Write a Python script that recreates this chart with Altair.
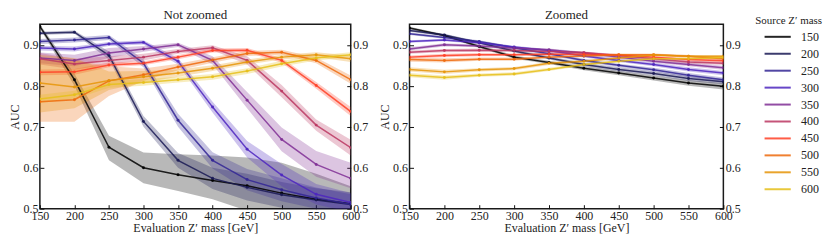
import altair as alt
import pandas as pd

eval_masses = [150, 200, 250, 300, 350, 400, 450, 500, 550, 600]
source_masses = ["150", "200", "250", "300", "350", "400", "450", "500", "550", "600"]
colors = ["#000000", "#1a1a55", "#332695", "#4d26bf", "#802f95",
          "#bb3762", "#ff4026", "#ee6a0d", "#e69508", "#e6bf1a"]

# ---- "Not zoomed" panel: mean AUC and band limits per source mass ----
nz_auc = {
    "150": [0.945, 0.815, 0.650, 0.600, 0.583, 0.569, 0.556, 0.538, 0.523, 0.512],
    "200": [0.928, 0.931, 0.874, 0.713, 0.618, 0.574, 0.552, 0.534, 0.521, 0.510],
    "250": [0.908, 0.912, 0.918, 0.855, 0.716, 0.618, 0.571, 0.546, 0.526, 0.511],
    "300": [0.892, 0.890, 0.902, 0.906, 0.860, 0.748, 0.645, 0.582, 0.535, 0.515],
    "350": [0.868, 0.862, 0.880, 0.890, 0.900, 0.862, 0.765, 0.669, 0.608, 0.574],
    "400": [0.866, 0.853, 0.862, 0.870, 0.884, 0.893, 0.862, 0.787, 0.704, 0.649],
    "450": [0.833, 0.834, 0.851, 0.855, 0.870, 0.886, 0.887, 0.862, 0.801, 0.737],
    "500": [0.761, 0.766, 0.812, 0.827, 0.846, 0.863, 0.879, 0.882, 0.862, 0.815],
    "550": [0.807, 0.797, 0.813, 0.822, 0.831, 0.843, 0.858, 0.870, 0.876, 0.866],
    "600": [0.768, 0.778, 0.803, 0.808, 0.815, 0.822, 0.836, 0.854, 0.868, 0.876],
}
nz_lo = {
    "150": [0.940, 0.800, 0.618, 0.562, 0.543, 0.523, 0.495, 0.480, 0.475, 0.470],
    "200": [0.924, 0.927, 0.864, 0.700, 0.600, 0.548, 0.520, 0.502, 0.492, 0.482],
    "250": [0.902, 0.906, 0.912, 0.845, 0.700, 0.598, 0.545, 0.518, 0.500, 0.490],
    "300": [0.886, 0.884, 0.897, 0.901, 0.852, 0.735, 0.625, 0.555, 0.510, 0.492],
    "350": [0.855, 0.848, 0.868, 0.883, 0.895, 0.852, 0.745, 0.640, 0.578, 0.550],
    "400": [0.852, 0.840, 0.852, 0.862, 0.878, 0.887, 0.852, 0.772, 0.690, 0.630],
    "450": [0.826, 0.827, 0.845, 0.850, 0.865, 0.881, 0.882, 0.856, 0.793, 0.726],
    "500": [0.712, 0.712, 0.775, 0.812, 0.838, 0.856, 0.873, 0.876, 0.855, 0.805],
    "550": [0.735, 0.745, 0.790, 0.808, 0.822, 0.836, 0.852, 0.864, 0.870, 0.858],
    "600": [0.758, 0.768, 0.795, 0.800, 0.808, 0.815, 0.829, 0.847, 0.862, 0.870],
}
nz_hi = {
    "150": [0.950, 0.830, 0.678, 0.637, 0.633, 0.630, 0.625, 0.612, 0.585, 0.555],
    "200": [0.932, 0.935, 0.884, 0.726, 0.636, 0.600, 0.585, 0.565, 0.550, 0.540],
    "250": [0.914, 0.918, 0.924, 0.865, 0.732, 0.638, 0.597, 0.574, 0.552, 0.535],
    "300": [0.898, 0.896, 0.907, 0.911, 0.868, 0.761, 0.665, 0.609, 0.560, 0.538],
    "350": [0.881, 0.876, 0.892, 0.897, 0.905, 0.872, 0.785, 0.698, 0.641, 0.612],
    "400": [0.880, 0.866, 0.872, 0.878, 0.890, 0.899, 0.872, 0.802, 0.718, 0.668],
    "450": [0.840, 0.841, 0.857, 0.860, 0.875, 0.891, 0.892, 0.868, 0.809, 0.748],
    "500": [0.865, 0.862, 0.848, 0.842, 0.854, 0.870, 0.885, 0.888, 0.869, 0.825],
    "550": [0.875, 0.868, 0.835, 0.836, 0.840, 0.850, 0.864, 0.876, 0.882, 0.874],
    "600": [0.778, 0.788, 0.811, 0.816, 0.822, 0.829, 0.843, 0.861, 0.874, 0.882],
}

# ---- "Zoomed" panel: mean AUC and band half-width per source mass ----
z_auc = {
    "150": [0.941, 0.923, 0.896, 0.870, 0.857, 0.843, 0.831, 0.819, 0.807, 0.799],
    "200": [0.935, 0.924, 0.905, 0.885, 0.868, 0.852, 0.840, 0.830, 0.818, 0.810],
    "250": [0.927, 0.918, 0.908, 0.893, 0.878, 0.862, 0.850, 0.839, 0.826, 0.815],
    "300": [0.908, 0.912, 0.905, 0.895, 0.886, 0.873, 0.862, 0.852, 0.840, 0.831],
    "350": [0.890, 0.900, 0.897, 0.892, 0.888, 0.880, 0.870, 0.860, 0.852, 0.844],
    "400": [0.882, 0.886, 0.887, 0.886, 0.884, 0.881, 0.874, 0.866, 0.858, 0.855],
    "450": [0.870, 0.874, 0.876, 0.876, 0.877, 0.877, 0.875, 0.870, 0.864, 0.861],
    "500": [0.864, 0.862, 0.865, 0.865, 0.870, 0.873, 0.876, 0.876, 0.872, 0.866],
    "550": [0.840, 0.834, 0.839, 0.842, 0.855, 0.860, 0.868, 0.875, 0.872, 0.872],
    "600": [0.826, 0.820, 0.826, 0.829, 0.840, 0.852, 0.860, 0.866, 0.866, 0.869],
}
z_err = {
    "150": [0.003, 0.003, 0.004, 0.004, 0.004, 0.005, 0.005, 0.006, 0.007, 0.008],
    "200": [0.003, 0.003, 0.003, 0.004, 0.004, 0.004, 0.005, 0.005, 0.006, 0.006],
    "250": [0.003, 0.003, 0.003, 0.003, 0.004, 0.004, 0.004, 0.005, 0.005, 0.005],
    "300": [0.003, 0.003, 0.003, 0.003, 0.003, 0.004, 0.004, 0.004, 0.005, 0.005],
    "350": [0.004, 0.004, 0.003, 0.003, 0.003, 0.003, 0.004, 0.004, 0.004, 0.005],
    "400": [0.004, 0.004, 0.004, 0.003, 0.003, 0.003, 0.003, 0.004, 0.004, 0.004],
    "450": [0.004, 0.004, 0.004, 0.003, 0.003, 0.003, 0.003, 0.003, 0.004, 0.004],
    "500": [0.005, 0.005, 0.004, 0.004, 0.003, 0.003, 0.003, 0.003, 0.003, 0.004],
    "550": [0.005, 0.005, 0.004, 0.004, 0.004, 0.003, 0.003, 0.003, 0.003, 0.003],
    "600": [0.005, 0.005, 0.004, 0.004, 0.004, 0.003, 0.003, 0.003, 0.003, 0.003],
}

FONT = "Liberation Serif"

rows_nz, rows_z = [], []
for s in source_masses:
    for i, e in enumerate(eval_masses):
        rows_nz.append({"source": s, "eval": e, "auc": nz_auc[s][i],
                        "lo": nz_lo[s][i], "hi": nz_hi[s][i]})
        rows_z.append({"source": s, "eval": e, "auc": z_auc[s][i],
                       "lo": z_auc[s][i] - z_err[s][i], "hi": z_auc[s][i] + z_err[s][i]})
df_nz = pd.DataFrame(rows_nz)
df_z = pd.DataFrame(rows_z)

yticks = [0.5, 0.6, 0.7, 0.8, 0.9]
cscale = alt.Scale(domain=source_masses, range=colors)
color_enc = alt.Color("source:N", scale=cscale,
                      legend=alt.Legend(title="Source Z′ mass", orient="none",
                                        legendX=718, legendY=-9))


def panel(df, title, w, h):
    base = alt.Chart(df)
    xs = alt.Scale(domain=[150, 600], nice=False, zero=False)
    ys = alt.Scale(domain=[0.5, 0.95], nice=False, zero=False)

    bands = base.mark_area(opacity=0.28, clip=True).encode(
        x=alt.X("eval:Q", scale=xs,
                axis=alt.Axis(values=eval_masses, ticks=False, domain=False, grid=False,
                              labelFlush=False, labelPadding=2,
                              title="Evaluation Z′ mass [GeV]", titlePadding=1)),
        y=alt.Y("lo:Q", scale=ys,
                axis=alt.Axis(values=yticks, format=".1f", ticks=False, domain=False,
                              grid=False, labelPadding=2, title="AUC", titlePadding=1)),
        y2="hi:Q",
        color=color_enc,
    )
    lines = base.mark_line(strokeWidth=1.5, opacity=0.85, clip=True).encode(
        x=alt.X("eval:Q", scale=xs,
                axis=alt.Axis(orient="top", offset=-h, values=eval_masses, labels=False,
                              domain=False, grid=False, ticks=True, tickSize=4, title=None)),
        y=alt.Y("auc:Q", scale=ys,
                axis=alt.Axis(orient="right", values=yticks, format=".1f", ticks=False,
                              domain=False, grid=False, labelPadding=2, title=None)),
        color=color_enc,
    )
    pts = base.mark_point(filled=True, size=9, opacity=0.9, clip=True).encode(
        x=alt.X("eval:Q", scale=xs, axis=None),
        y=alt.Y("auc:Q", scale=ys,
                axis=alt.Axis(orient="right", offset=-w, values=yticks, labels=False,
                              domain=False, grid=False, ticks=True, tickSize=4, title=None)),
        color=color_enc,
    )
    ghost = base.mark_line(opacity=0, clip=True).encode(
        x=alt.X("eval:Q", scale=xs, axis=None),
        y=alt.Y("auc:Q", scale=ys,
                axis=alt.Axis(orient="left", offset=-w, values=yticks, labels=False,
                              domain=False, grid=False, ticks=True, tickSize=4, title=None)),
        color=color_enc,
    )
    return alt.layer(bands, lines, pts, ghost).resolve_axis(
        x="independent", y="independent"
    ).properties(
        width=w, height=h,
        title=alt.TitleParams(title, font=FONT, fontSize=13, fontWeight="normal",
                              color="#222", offset=2),
    )


left = panel(df_nz, "Not zoomed", 312, 185)
right = panel(df_z, "Zoomed", 315, 185)

chart = alt.hconcat(left, right, spacing=9).properties(
    padding=0, background="white"
).configure_view(
    stroke="#1a1a1a", strokeWidth=1.5
).configure_axis(
    labelFont=FONT, labelFontSize=12, labelColor="#222",
    titleFont=FONT, titleFontSize=12, titleFontWeight="normal", titleColor="#222",
    tickColor="#111", tickWidth=1,
).configure_legend(
    titleFont=FONT, titleFontSize=11, titleFontWeight="normal", titleColor="#222",
    labelFont=FONT, labelFontSize=12, labelColor="#222",
    symbolType="M-1.6,0H1.6", symbolSize=270, symbolStrokeWidth=2,
    symbolOpacity=0.85, symbolOffset=13, labelOffset=14, rowPadding=1,
    titlePadding=1, padding=0,
)

chart.save("out.html", embed_options={"renderer": "svg", "actions": False})
